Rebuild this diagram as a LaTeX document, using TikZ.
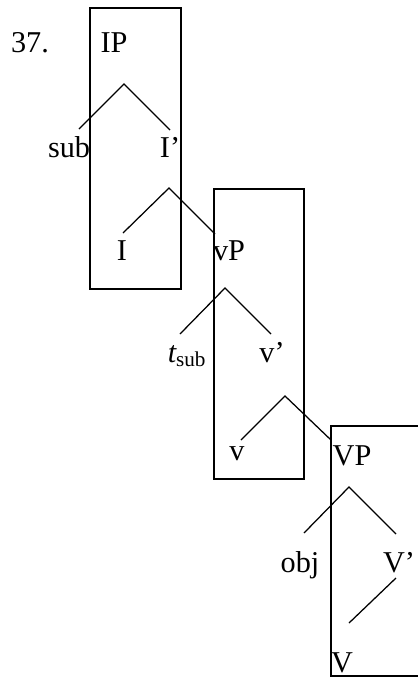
\documentclass[tikz,border=0pt]{standalone}
\usepackage{fontspec}
\setmainfont{Liberation Serif}
\usepackage{tikz}
\usetikzlibrary{positioning}
\tikzset{
  %% Tree label
  lbl/.style={
    anchor=base, inner sep=0pt, outer sep=0pt,
    font=\fontsize{21.5}{24}\selectfont
  },
  %% Branch of the tree
  leg/.style={draw=black, line width=0.9pt},
  %% Phase box
  phasebox/.style={draw=black, line width=0.9pt},
}
\begin{document}
\begin{tikzpicture}[x=0.025cm, y=-0.025cm]

  %% Frame of the picture
  \clip (0,0) rectangle (418,677);
  \useasboundingbox (0,0) rectangle (418,677);

  %% Phase boxes
  \draw[phasebox] (90,8)   rectangle (181,289);
  \draw[phasebox] (214,189) rectangle (304,479);
  \draw[phasebox] (331,426) rectangle (430,676);

  %% Labels
  \node[lbl] (num)  at (30,52)  {37.};
  \node[lbl] (ip)   at (114,52) {IP};
  \node[lbl] (sub)  at (69,157) {sub};
  \node[lbl] (ibar) at (170,157) {I’};
  \node[lbl] (i)    at (122,260) {I};
  \node[lbl] (vp)   at (229,260) {vP};
  \node[lbl] (tsub) at (187,362) {\itshape t\upshape\textsubscript{sub}};
  \node[lbl] (vbar) at (272,362) {v’};
  \node[lbl] (v)    at (237,460) {v};
  \node[lbl] (bigvp) at (352,465) {VP};
  \node[lbl] (obj)  at (300,572) {obj};
  \node[lbl] (bigvbar) at (399,572) {V’};
  \node[lbl] (bigv) at (342,672) {V};

  %% Branch points
  \coordinate (ipTop)   at (124,84);
  \coordinate (ipL)     at (79,129);
  \coordinate (ipR)     at (170,130);
  \coordinate (ibarTop) at (169,188);
  \coordinate (ibarL)   at (123,233);
  \coordinate (ibarR)   at (215,234);
  \coordinate (vpTop)   at (225,288);
  \coordinate (vpL)     at (180,334);
  \coordinate (vpR)     at (271,334);
  \coordinate (vbarTop) at (285,396);
  \coordinate (vbarL)   at (241,440);
  \coordinate (vbarR)   at (331,440);
  \coordinate (bvpTop)  at (349,487);
  \coordinate (bvpL)    at (304,533);
  \coordinate (bvpR)    at (396,534);
  \coordinate (bvbarT)  at (396,578);
  \coordinate (bvbarB)  at (349,623);

  %% Branches
  \draw[leg] (ipL) -- (ipTop) -- (ipR);
  \draw[leg] (ibarL) -- (ibarTop) -- (ibarR);
  \draw[leg] (vpL) -- (vpTop) -- (vpR);
  \draw[leg] (vbarL) -- (vbarTop) -- (vbarR);
  \draw[leg] (bvpL) -- (bvpTop) -- (bvpR);
  \draw[leg] (bvbarT) -- (bvbarB);

\end{tikzpicture}
\end{document}
